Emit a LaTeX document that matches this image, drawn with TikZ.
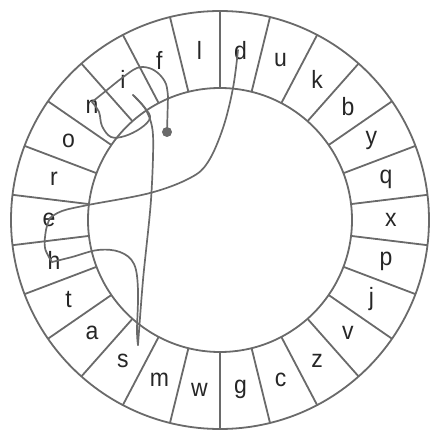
\documentclass[tikz,border=0pt]{standalone}
\usepackage{fontspec}
\setmainfont{Liberation Sans}
\definecolor{pen}{HTML}{6A6A6A}
\tikzset{
  ring/.style={draw=pen, line width=1.8pt},
  letter/.style={font=\fontsize{25}{25}\selectfont, text=black!85, inner sep=0pt, xscale=0.92},
  gesture/.style={draw=pen, line width=1.7pt, line join=round, line cap=round}
}
\begin{document}
\begin{tikzpicture}[x=1pt,y=1pt]
   \useasboundingbox (-220,-222) rectangle (220,220);
   \draw[ring] (0,0) circle (209);
   \draw[ring] (0,0) circle (132);
   \foreach \k in {0,...,25}
      \draw[ring] ({90+\k*360/26}:132) -- ({90+\k*360/26}:209);

   \foreach \ch [count=\k from 0] in {d,u,k,b,y,q,x,p,j,v,z,c,g,w,m,s,a,t,h,e,r,o,n,i,f,l}
      \node[letter] (\ch) at ({90-180/26-\k*360/26}:171) {\ch};

   % the stroke for "finished", in picture pixels
   \begin{scope}[shift={(-220,220)},yscale=-1]
   \coordinate (start) at (167,132);
   \fill[pen] (start) circle (5);
   \draw[gesture] (start) -- (168,97)
      plot[smooth,tension=0.6] coordinates {(168,97) (166,84) (159,74) (149,68) (137,68) (122,78) (107,90) (92,102)};
   \draw[gesture] plot[smooth,tension=0.6] coordinates {(92,102) (99,112) (102,126) (111,137) (125,136) (141,128) (150,118) (145,108) (133,95)};
   \draw[gesture] plot[smooth,tension=0.5] coordinates {(133,95) (146,110) (153,135) (151,200) (143,280) (138,345)};
   \draw[gesture] plot[smooth,tension=0.6] coordinates {(138,345) (137,330) (138,290) (134,264) (120,252) (98,250) (72,257) (52,262)};
   \draw[gesture] plot[smooth,tension=0.6] coordinates {(52,262) (45,248) (46,230) (50,218)};
   \draw[gesture] plot[smooth,tension=0.6] coordinates {(50,218) (62,211) (88,205) (150,193) (190,178) (208,162) (223,128) (233,88) (238,50)};
   \end{scope}
\end{tikzpicture}
\end{document}
